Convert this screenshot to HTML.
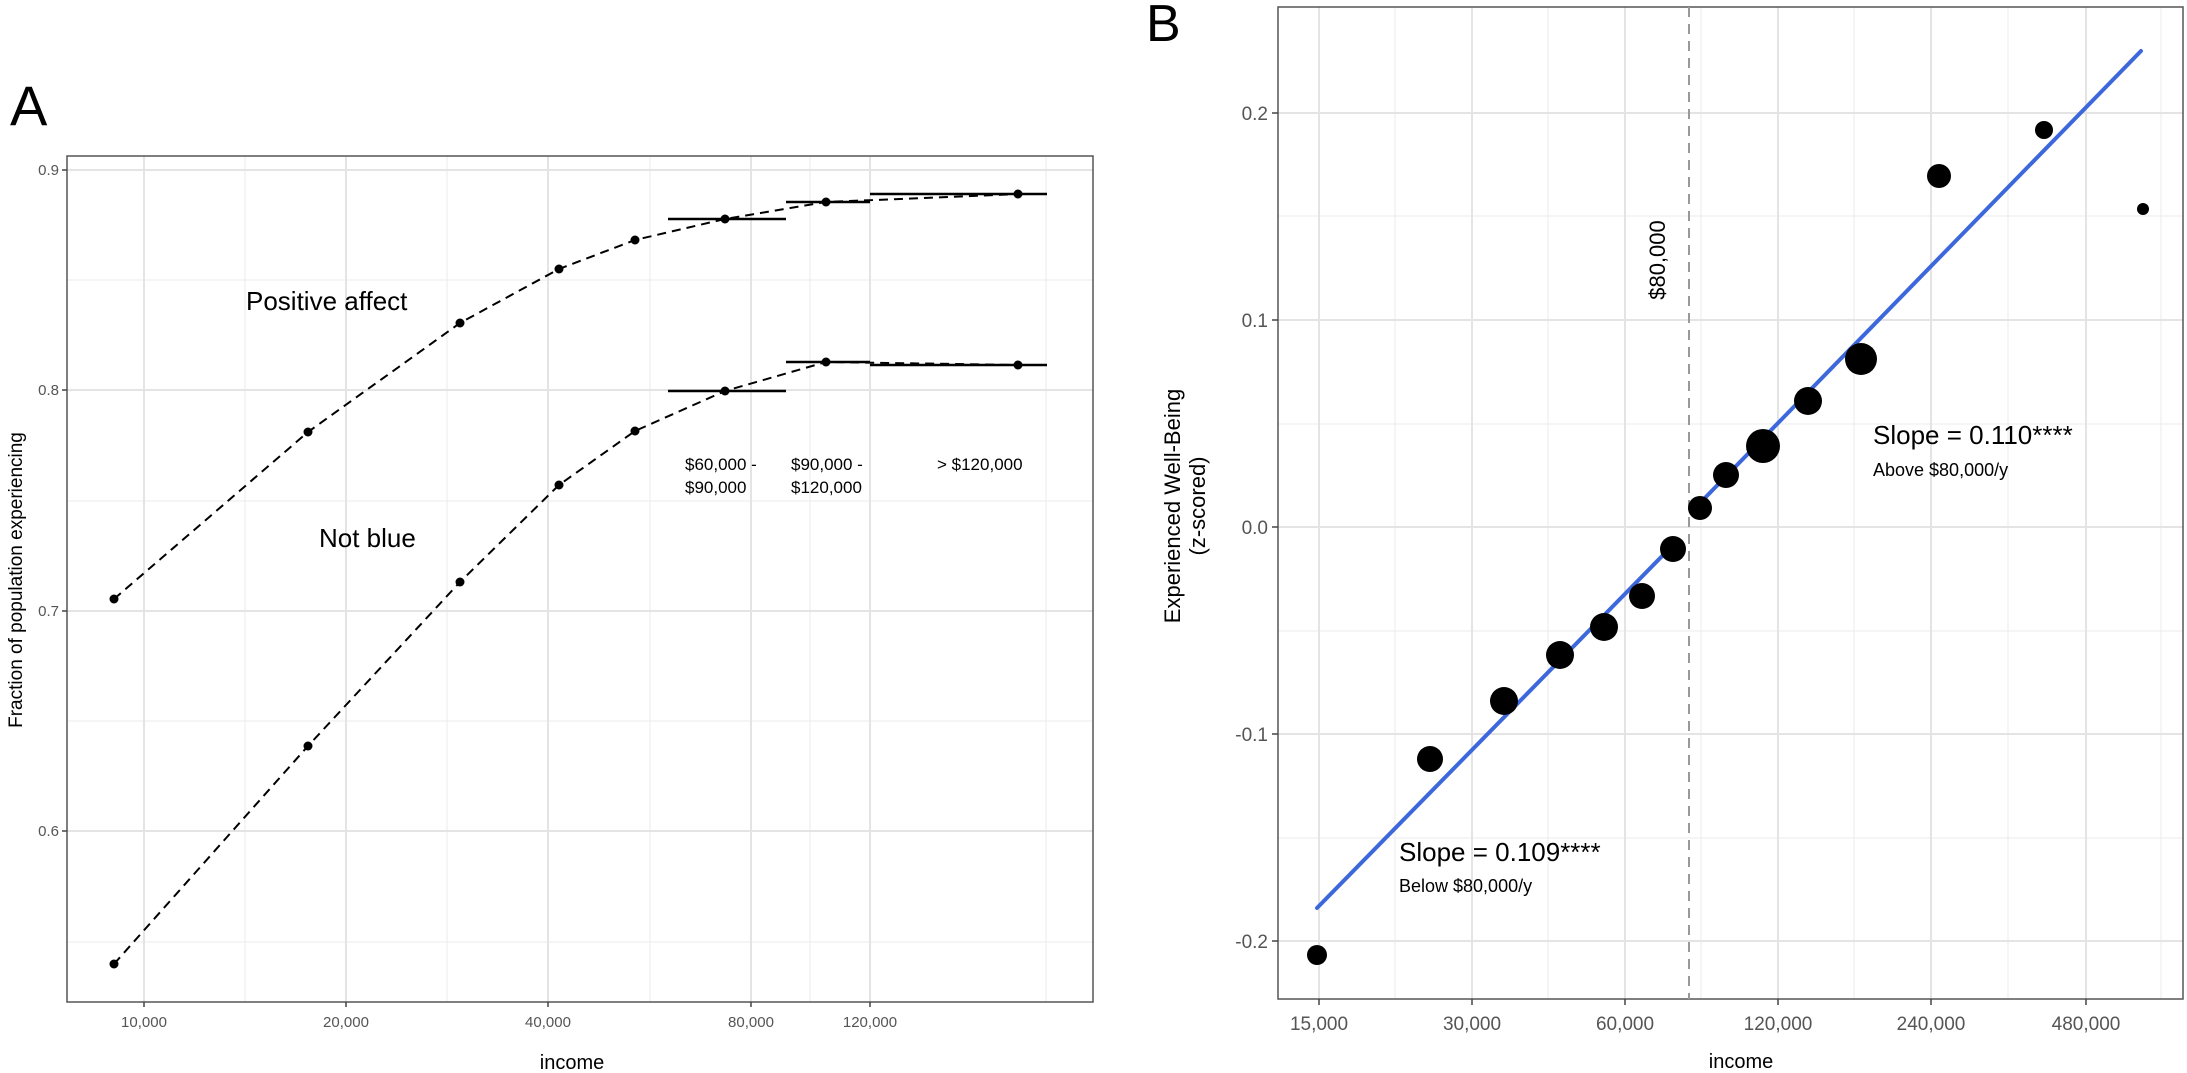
<!DOCTYPE html>
<html><head><meta charset="utf-8"><style>
html,body{margin:0;padding:0;background:#fff;}
svg{display:block;font-family:"Liberation Sans",sans-serif;}
</style></head><body>
<svg width="2187" height="1073" viewBox="0 0 2187 1073" xmlns="http://www.w3.org/2000/svg">
<rect width="2187" height="1073" fill="#fff"/>
<!-- Panel A -->
<text x="10" y="125" font-size="56" fill="#000">A</text>
<g stroke="#ebebeb" stroke-width="1">
<line x1="67" x2="1093" y1="280" y2="280"/><line x1="67" x2="1093" y1="501" y2="501"/><line x1="67" x2="1093" y1="721" y2="721"/><line x1="67" x2="1093" y1="942" y2="942"/>
<line x1="245" x2="245" y1="156" y2="1002"/><line x1="447" x2="447" y1="156" y2="1002"/><line x1="650" x2="650" y1="156" y2="1002"/><line x1="810" x2="810" y1="156" y2="1002"/><line x1="1046" x2="1046" y1="156" y2="1002"/>
</g>
<g stroke="#e4e4e4" stroke-width="2">
<line x1="67" x2="1093" y1="170" y2="170"/><line x1="67" x2="1093" y1="390" y2="390"/><line x1="67" x2="1093" y1="611" y2="611"/><line x1="67" x2="1093" y1="831" y2="831"/>
<line x1="144" x2="144" y1="156" y2="1002"/><line x1="346" x2="346" y1="156" y2="1002"/><line x1="548" x2="548" y1="156" y2="1002"/><line x1="751" x2="751" y1="156" y2="1002"/><line x1="870" x2="870" y1="156" y2="1002"/>
</g>
<rect x="67" y="156" width="1026" height="846" fill="none" stroke="#555" stroke-width="1.5"/>
<g stroke="#444" stroke-width="1.5">
<line x1="62" x2="67" y1="170" y2="170"/><line x1="62" x2="67" y1="390" y2="390"/><line x1="62" x2="67" y1="611" y2="611"/><line x1="62" x2="67" y1="831" y2="831"/>
<line x1="144" x2="144" y1="1002" y2="1007"/><line x1="346" x2="346" y1="1002" y2="1007"/><line x1="548" x2="548" y1="1002" y2="1007"/><line x1="751" x2="751" y1="1002" y2="1007"/><line x1="870" x2="870" y1="1002" y2="1007"/>
</g>
<g font-size="15" fill="#555" text-anchor="end">
<text x="59" y="175">0.9</text><text x="59" y="395">0.8</text><text x="59" y="616">0.7</text><text x="59" y="836">0.6</text>
</g>
<g font-size="15" fill="#555" text-anchor="middle">
<text x="144" y="1027">10,000</text><text x="346" y="1027">20,000</text><text x="548" y="1027">40,000</text><text x="751" y="1027">80,000</text><text x="870" y="1027">120,000</text>
</g>
<text x="572" y="1069" font-size="20" text-anchor="middle" fill="#000">income</text>
<text transform="translate(22,580) rotate(-90)" font-size="19" text-anchor="middle" fill="#000">Fraction of population experiencing</text>
<g fill="none" stroke="#000" stroke-width="2" stroke-dasharray="9,6">
<polyline points="114,599 308,432 460,323 559,269 635,240 725,219 826,202 1020,194 1046,194"/>
<polyline points="114,964 308,746 460,582 559,485 635,431 725,391 826,362 1020,365 1046,365"/>
</g>
<g stroke="#000" stroke-width="2.5">
<line x1="668" x2="786" y1="219" y2="219"/><line x1="786" x2="870" y1="202" y2="202"/><line x1="870" x2="1047" y1="194" y2="194"/>
<line x1="668" x2="786" y1="391" y2="391"/><line x1="786" x2="870" y1="362" y2="362"/><line x1="870" x2="1047" y1="365" y2="365"/>
</g>
<g fill="#000">
<circle cx="114" cy="599" r="4.5"/><circle cx="308" cy="432" r="4.5"/><circle cx="460" cy="323" r="4.5"/><circle cx="559" cy="269" r="4.5"/><circle cx="635" cy="240" r="4.5"/><circle cx="725" cy="219" r="4.5"/><circle cx="826" cy="202" r="4.5"/><circle cx="1018" cy="194" r="4.5"/>
<circle cx="114" cy="964" r="4.5"/><circle cx="308" cy="746" r="4.5"/><circle cx="460" cy="582" r="4.5"/><circle cx="559" cy="485" r="4.5"/><circle cx="635" cy="431" r="4.5"/><circle cx="725" cy="391" r="4.5"/><circle cx="826" cy="362" r="4.5"/><circle cx="1018" cy="365" r="4.5"/>
</g>
<text x="246" y="310" font-size="26" fill="#000">Positive affect</text>
<text x="319" y="547" font-size="26" fill="#000">Not blue</text>
<g font-size="17" fill="#000">
<text x="685" y="470">$60,000 -</text><text x="685" y="493">$90,000</text>
<text x="791" y="470">$90,000 -</text><text x="791" y="493">$120,000</text>
<text x="937" y="470">&gt; $120,000</text>
</g>
<!-- Panel B -->
<text x="1146" y="41" font-size="52" fill="#000">B</text>
<g stroke="#ebebeb" stroke-width="1">
<line x1="1278" x2="2183" y1="216" y2="216"/><line x1="1278" x2="2183" y1="424" y2="424"/><line x1="1278" x2="2183" y1="631" y2="631"/><line x1="1278" x2="2183" y1="838" y2="838"/>
<line x1="1395" x2="1395" y1="7" y2="999"/><line x1="1548" x2="1548" y1="7" y2="999"/><line x1="1701" x2="1701" y1="7" y2="999"/><line x1="1854" x2="1854" y1="7" y2="999"/><line x1="2008" x2="2008" y1="7" y2="999"/><line x1="2161" x2="2161" y1="7" y2="999"/>
</g>
<g stroke="#e4e4e4" stroke-width="2">
<line x1="1278" x2="2183" y1="113" y2="113"/><line x1="1278" x2="2183" y1="320" y2="320"/><line x1="1278" x2="2183" y1="527" y2="527"/><line x1="1278" x2="2183" y1="734" y2="734"/><line x1="1278" x2="2183" y1="941" y2="941"/>
<line x1="1319" x2="1319" y1="7" y2="999"/><line x1="1472" x2="1472" y1="7" y2="999"/><line x1="1625" x2="1625" y1="7" y2="999"/><line x1="1778" x2="1778" y1="7" y2="999"/><line x1="1931" x2="1931" y1="7" y2="999"/><line x1="2086" x2="2086" y1="7" y2="999"/>
</g>
<rect x="1278" y="7" width="905" height="992" fill="none" stroke="#555" stroke-width="1.5"/>
<g stroke="#444" stroke-width="1.5">
<line x1="1272" x2="1278" y1="113" y2="113"/><line x1="1272" x2="1278" y1="320" y2="320"/><line x1="1272" x2="1278" y1="527" y2="527"/><line x1="1272" x2="1278" y1="734" y2="734"/><line x1="1272" x2="1278" y1="941" y2="941"/>
<line x1="1319" x2="1319" y1="999" y2="1005"/><line x1="1472" x2="1472" y1="999" y2="1005"/><line x1="1625" x2="1625" y1="999" y2="1005"/><line x1="1778" x2="1778" y1="999" y2="1005"/><line x1="1931" x2="1931" y1="999" y2="1005"/><line x1="2086" x2="2086" y1="999" y2="1005"/>
</g>
<g font-size="19" fill="#555" text-anchor="end">
<text x="1268" y="120">0.2</text><text x="1268" y="327">0.1</text><text x="1268" y="534">0.0</text><text x="1268" y="741">-0.1</text><text x="1268" y="948">-0.2</text>
</g>
<g font-size="19" fill="#555" text-anchor="middle">
<text x="1319" y="1030">15,000</text><text x="1472" y="1030">30,000</text><text x="1625" y="1030">60,000</text><text x="1778" y="1030">120,000</text><text x="1931" y="1030">240,000</text><text x="2086" y="1030">480,000</text>
</g>
<text x="1741" y="1068" font-size="20" text-anchor="middle" fill="#000">income</text>
<text transform="translate(1180,506) rotate(-90)" font-size="22" text-anchor="middle" fill="#000">Experienced Well-Being</text>
<text transform="translate(1205,506) rotate(-90)" font-size="22" text-anchor="middle" fill="#000">(z-scored)</text>
<line x1="1689" x2="1689" y1="7" y2="999" stroke="#999" stroke-width="2" stroke-dasharray="10,7"/>
<text transform="translate(1665,260) rotate(-90)" font-size="22" text-anchor="middle" fill="#000">$80,000</text>
<g stroke="#3d68dc" stroke-width="4" stroke-linecap="round">
<line x1="1317" y1="908" x2="1671" y2="547"/>
<line x1="1700" y1="503" x2="2141" y2="51"/>
</g>
<g fill="#000">
<circle cx="1317" cy="955" r="10"/><circle cx="1430" cy="759" r="13"/><circle cx="1504" cy="701" r="14"/><circle cx="1560" cy="655" r="14"/><circle cx="1604" cy="627" r="14"/><circle cx="1642" cy="596" r="13"/><circle cx="1673" cy="549" r="13"/><circle cx="1700" cy="508" r="12"/><circle cx="1726" cy="475" r="13"/><circle cx="1763" cy="446" r="17"/><circle cx="1808" cy="401" r="14"/><circle cx="1861" cy="359" r="16"/><circle cx="1939" cy="176" r="12"/><circle cx="2044" cy="130" r="9"/><circle cx="2143" cy="209" r="6"/>
</g>
<text x="1873" y="444" font-size="26" fill="#000">Slope = 0.110****</text>
<text x="1873" y="476" font-size="18" fill="#000">Above $80,000/y</text>
<text x="1399" y="861" font-size="26" fill="#000">Slope = 0.109****</text>
<text x="1399" y="892" font-size="18" fill="#000">Below $80,000/y</text>
</svg>
</body></html>
